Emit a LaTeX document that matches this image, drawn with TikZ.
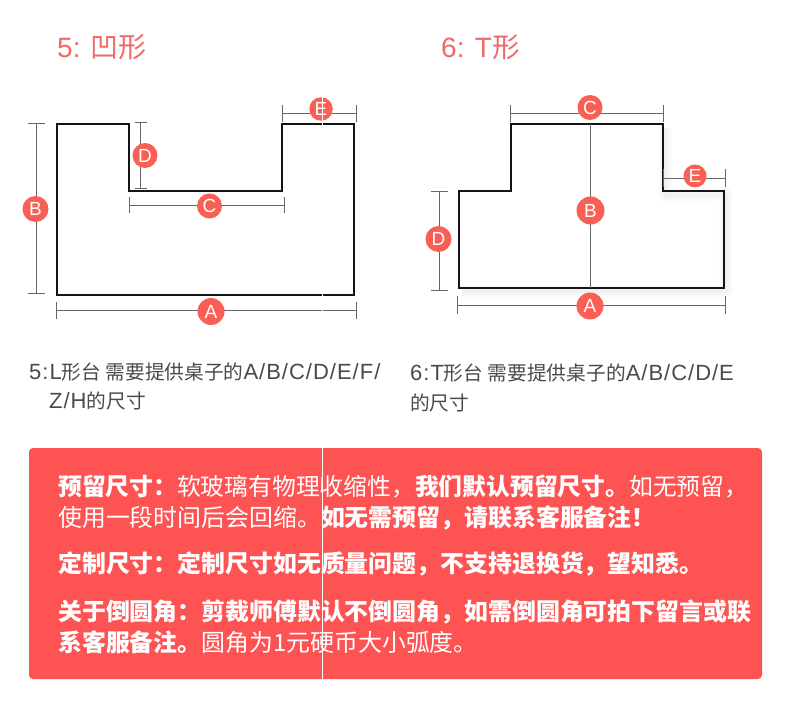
\documentclass[tikz,border=0pt]{standalone}
\usepackage{fontspec}
\usetikzlibrary{arrows.meta}
\setmainfont{Liberation Sans}
\newfontfamily\cjk{Noto Sans CJK SC}
\newfontfamily\lat{Liberation Sans}
\newfontfamily\capfont[LetterSpace=4.5]{Liberation Sans}
\definecolor{titlered}{HTML}{F06868}
\definecolor{badgered}{HTML}{FA5F55}
\definecolor{boxred}{HTML}{FD5353}
\definecolor{captext}{HTML}{4A4A4A}
\definecolor{dimgray}{HTML}{666666}
\newcommand{\Sz}[1]{\fontsize{#1}{#1}\selectfont}
\newcommand{\rb}[1]{{\bfseries #1}}
\newcommand{\capcjk}[1]{{\cjk\Sz{19.7}#1}}
\tikzset{
  x=1pt,y=-1pt,
  outline/.style={draw=black!92,line width=2pt,line join=miter},
  dimline/.style={draw=dimgray,line width=0.8pt,shorten <=-0.8pt,shorten >=-0.8pt,{Bar[width=#1,length=0.8pt]}-{Bar[width=#1,length=0.8pt]}},
  plainline/.style={draw=dimgray,line width=0.8pt},
  badge/.style={circle,fill=badgered,text=white,inner sep=0pt,minimum size=#1,font=\lat\Sz{19}},
  titletext/.style={anchor=base west,inner sep=0pt,text=titlered,font=\lat\Sz{28}},
  captiontext/.style={anchor=base west,inner sep=0pt,text=captext,font=\capfont\Sz{22}},
  boxtext/.style={anchor=base west,inner sep=0pt,text=white,font=\cjk\Sz{23.9}},
  seam/.style={draw=white,line width=0.8pt},
  softshadow/.style={draw=black,line width=#1,opacity=0.012,line join=round}
}
\begin{document}
\begin{tikzpicture}
\useasboundingbox (0,0) rectangle (790,703);
\fill[white] (0,0) rectangle (790,703);

% titles
\node[titletext] (t5) at (57,58) {5: {\cjk\Sz{28}凹形}};
\node[titletext] (t6) at (441,58) {6: T{\cjk\Sz{27.5}形}};

% L / concave shape
\draw[outline] (57,124) -- (129,124) -- (129,191) -- (282,191) -- (282,124) -- (354,124) -- (354,295) -- (57,295) -- cycle;

\coordinate (b5t) at (36.5,123.5); \coordinate (b5b) at (36.5,293.5);
\coordinate (d5t) at (140.5,122.5); \coordinate (d5b) at (140.5,188.5);
\coordinate (c5l) at (129.5,205); \coordinate (c5r) at (283.5,205);
\coordinate (e5l) at (282.5,113.5); \coordinate (e5r) at (355.5,113.5);
\coordinate (a5l) at (57,310.5); \coordinate (a5r) at (356,310.5);
\draw[dimline=17pt] (b5t) -- (b5b);
\draw[dimline=12pt] (d5t) -- (d5b);
\draw[dimline=16pt] (c5l) -- (c5r);
\draw[dimline=16pt] (e5l) -- (e5r);
\draw[dimline=17pt] (a5l) -- (a5r);
\node[badge=26pt] (B5) at (35.5,209) {B};
\node[badge=25pt] (D5) at (145,155.5) {D};
\node[badge=25pt] (C5) at (209.5,206) {C};
\node[badge=23.5pt] (E5) at (321,109) {E};
\node[badge=27pt] (A5) at (211,311.5) {A};

% T shape: soft shadow
\foreach \w in {14pt,11pt,8pt,5pt,2pt}{
  \draw[softshadow=\w] (665,128) -- (665,195) -- (726,195) -- (726,291) -- (462,291);
}
\draw[outline] (511,124) -- (663,124) -- (663,191.5) -- (723.5,191.5) -- (723.5,288) -- (458.5,288) -- (458.5,191.5) -- (511,191.5) -- cycle;

\coordinate (c6l) at (510.7,113.5); \coordinate (c6r) at (663.3,113.5);
\coordinate (b6t) at (590.5,124); \coordinate (b6b) at (590.5,288);
\coordinate (e6l) at (664,178); \coordinate (e6r) at (724.5,178);
\coordinate (d6t) at (439.5,191.5); \coordinate (d6b) at (439.5,290);
\coordinate (a6l) at (457.5,305); \coordinate (a6r) at (724.5,305);
\draw[dimline=17pt] (c6l) -- (c6r);
\draw[plainline] (b6t) -- (b6b);
\draw[dimline=17pt] (e6l) -- (e6r);
\draw[dimline=17pt] (d6t) -- (d6b);
\draw[dimline=17pt] (a6l) -- (a6r);
\node[badge=25pt] (C6) at (590,107.5) {C};
\node[badge=28pt] (B6) at (590.5,210.5) {B};
\node[badge=23pt] (E6) at (695,176) {E};
\node[badge=26pt] (D6) at (438.5,239) {D};
\node[badge=27pt] (A6) at (590,306) {A};

% captions
\node[captiontext] (cap5a) at (29,379) {5:L\capcjk{形台}\hspace{4.5pt}\capcjk{需要提供桌子的}A/B/C/D/E/F/};
\node[captiontext] (cap5b) at (49,408) {Z/H\capcjk{的尺寸}};
\node[captiontext] (cap6a) at (410,380.5) {6:T\capcjk{形台}\hspace{4.5pt}\capcjk{需要提供桌子的}A/B/C/D/E};
\node[captiontext] (cap6b) at (410,410) {\capcjk{的尺寸}};

% red panel
\fill[boxred,rounded corners=4pt] (29,448) rectangle (762,679);
\node[boxtext,font=\cjk\Sz{23.8}] (l1) at (58,495.5) {\rb{预留尺寸：}软玻璃有物理收缩性，\rb{我们默认预留尺寸。}如无预留，};
\node[boxtext] (l2) at (58,526) {使用一段时间后会回缩。\rb{如无需预留，请联系客服备注！}};
\node[boxtext] (l3) at (58,572) {\rb{定制尺寸：定制尺寸如无质量问题，不支持退换货，望知悉。}};
\node[boxtext] (l4) at (58,620.5) {\rb{关于倒圆角：剪裁师傅默认不倒圆角，如需倒圆角可拍下留言或联}};
\node[boxtext] (l5) at (58,651) {\rb{系客服备注。}圆角为1元硬币大小弧度。};

% image seam
\coordinate (s1) at (322,448); \coordinate (s2) at (322,679);
\coordinate (s3) at (322,97); \coordinate (s4) at (322,125);
\coordinate (s5) at (322,293.5); \coordinate (s6) at (322,296.5);
\coordinate (s7) at (322,309.5); \coordinate (s8) at (322,311.5);
\draw[seam] (s1) -- (s2);
\draw[seam] (s3) -- (s4);
\draw[seam] (s5) -- (s6);
\draw[seam] (s7) -- (s8);
\end{tikzpicture}
\end{document}
